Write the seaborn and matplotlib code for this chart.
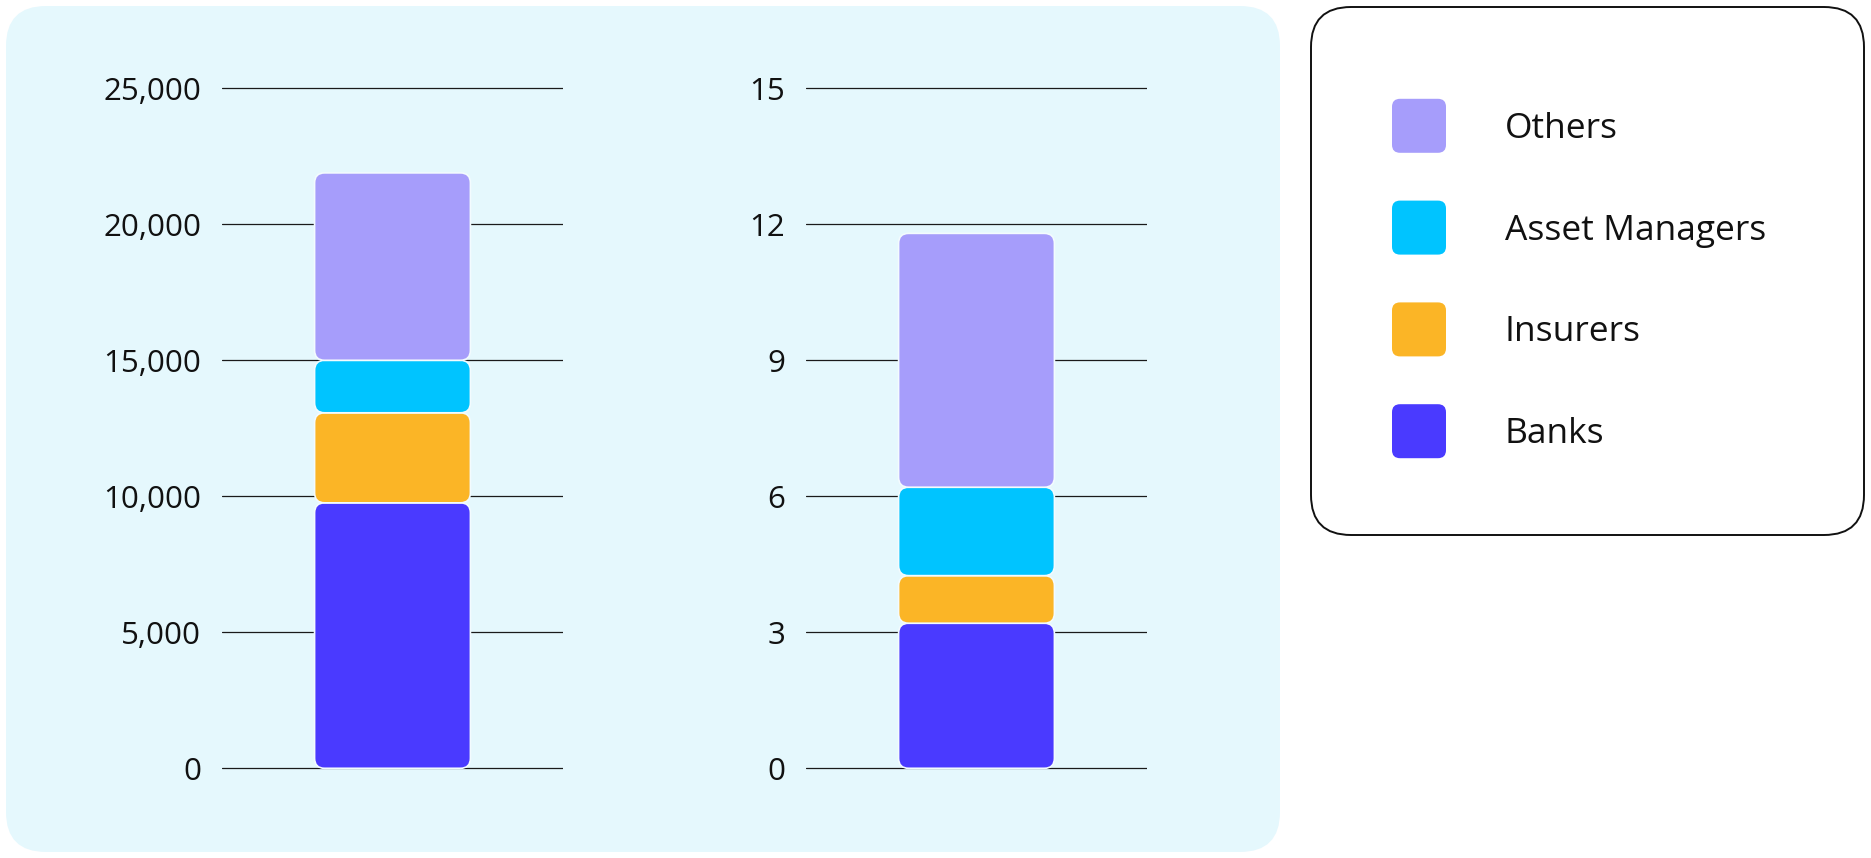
import matplotlib.pyplot as plt
import matplotlib.patches as mpatches
import matplotlib.ticker as mticker
import matplotlib.colors as mcolors
import pandas as pd
import seaborn as sns

# data
segments = ['Banks', 'Insurers', 'Asset Managers', 'Others']
colors = ['#4A3AFF', '#FBB526', '#00C4FF', '#A69DFB']
left_values = [9760, 3310, 1930, 6890]
right_values = [3.2, 1.05, 1.95, 5.6]
left_ticks = [0, 5000, 10000, 15000, 20000, 25000]
right_ticks = [0, 3, 6, 9, 12, 15]
legend_order = ['Others', 'Asset Managers', 'Insurers', 'Banks']

W, H = 1871, 858
panel_color = '#E5F8FD'
text_color = '#111111'

sns.set_theme(style='white')
plt.rcParams['font.family'] = ['Open Sans', 'DejaVu Sans']

fig = plt.figure(figsize=(W / 100, H / 100), dpi=100)

# background: rounded light panel and legend card, in pixel units
bg = fig.add_axes([0, 0, 1, 1])
bg.set_xlim(0, W)
bg.set_ylim(0, H)
bg.axis('off')
bg.add_patch(mpatches.FancyBboxPatch((6, 6), 1274, 846,
                                     boxstyle='round,pad=0,rounding_size=40',
                                     fc=panel_color, ec='none'))
bg.add_patch(mpatches.FancyBboxPatch((1311, H - 535), 553, 528,
                                     boxstyle='round,pad=0,rounding_size=40',
                                     fc='white', ec=text_color, lw=1.4))

palette = dict(zip(segments, colors))


def px_axes(x0, y0, w, h):
    return fig.add_axes([x0 / W, y0 / H, w / W, h / H])


def draw_stack(ax, name, values, ticks, fmt):
    top = ticks[-1]
    margin = top * 0.02
    df = pd.DataFrame({'panel': name, 'segment': segments, 'value': values})
    sns.barplot(data=df, x='panel', y='value', hue='segment', hue_order=segments,
                palette=palette, dodge=False, width=0.457, errorbar=None,
                saturation=1, legend=False, ax=ax)
    ax.set_xlim(-0.5, 0.5)
    ax.set_ylim(-margin, top + margin)

    # stack the segments and give them rounded corners
    bottoms = dict(zip(segments, pd.Series(values).cumsum().shift(fill_value=0)))
    bbox = ax.get_position()
    ax_w = bbox.width * W
    ax_h = bbox.height * H
    x_per_px = 1.0 / ax_w
    y_per_px = (top + 2 * margin) / ax_h
    for rect in list(ax.patches):
        fc = mcolors.to_hex(rect.get_facecolor())
        seg = [s for s in segments if mcolors.to_hex(palette[s]) == fc][0]
        x, w, h = rect.get_x(), rect.get_width(), rect.get_height()
        rect.remove()
        ax.add_patch(mpatches.FancyBboxPatch(
            (x, bottoms[seg]), w, h,
            boxstyle=f'round,pad=0,rounding_size={10 * x_per_px}',
            mutation_aspect=y_per_px / x_per_px,
            fc=palette[seg], ec='#F3FBFE', lw=1.2, zorder=3))

    ax.set_facecolor('none')
    for sp in ax.spines.values():
        sp.set_visible(False)
    ax.set_yticks(ticks)
    ax.yaxis.set_major_formatter(fmt)
    ax.yaxis.grid(True, color='#1a1a1a', lw=0.9)
    ax.set_axisbelow(True)
    ax.set_xticks([])
    ax.set_xlabel('')
    ax.set_ylabel('')
    ax.tick_params(axis='y', length=0, pad=15, labelsize=22.5, labelcolor=text_color)
    for lab in ax.get_yticklabels():
        lab.set_fontweight('medium')


ax1 = px_axes(222, 76.1, 341, 707.2)
draw_stack(ax1, 'left', left_values, left_ticks, mticker.StrMethodFormatter('{x:,.0f}'))

ax2 = px_axes(806, 76.1, 341, 707.2)
draw_stack(ax2, 'right', right_values, right_ticks, mticker.StrMethodFormatter('{x:.0f}'))

# legend card entries
row_top = 125.8
row_gap = 101.8
for i, seg in enumerate(legend_order):
    cy = H - (row_top + i * row_gap)
    bg.add_patch(mpatches.FancyBboxPatch((1392, cy - 27), 54, 54,
                                         boxstyle='round,pad=0,rounding_size=8',
                                         fc=palette[seg], ec='none'))
    bg.text(1505, cy - 12, seg, fontsize=25.5, fontweight='medium',
            color=text_color, va='baseline', ha='left')

fig.savefig('out.png', dpi=100)
